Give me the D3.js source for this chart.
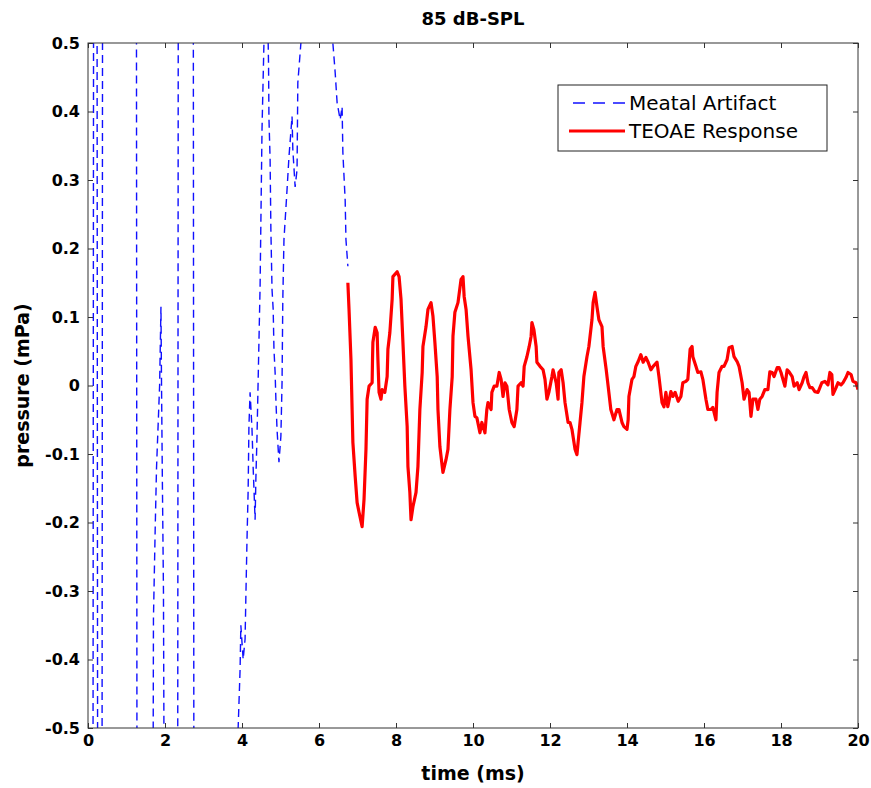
<!DOCTYPE html>
<html>
<head>
<meta charset="utf-8">
<script src="https://cdn.jsdelivr.net/npm/d3@7/dist/d3.min.js"></script>
<style>
  body { margin: 0; background: #fff; }
  text { font-family: "DejaVu Sans", Arial, sans-serif; }
</style>
</head>
<body>
<script>
// values (time in ms, pressure in mPa)
var artifactTime = [0.00, 0.13, 0.145, 0.19, 0.235, 0.25, 0.31, 0.365, 0.378, 0.80,
  1.258, 1.272, 1.50, 1.69, 1.70, 1.745, 1.78, 1.82, 1.86, 1.895, 1.91, 1.93, 1.96, 1.978,
  2.15, 2.33, 2.345, 2.55, 2.735, 2.75, 3.30, 3.89,
  3.90, 3.95, 3.97, 4.03, 4.08, 4.10, 4.13, 4.16, 4.18, 4.21, 4.26, 4.29, 4.34, 4.36, 4.39,
  4.42, 4.47, 4.52, 4.57, 4.62, 4.68, 4.69, 4.70, 4.73, 4.75, 4.78, 4.81, 4.83, 4.86, 4.88,
  4.91, 4.96, 5.01, 5.04, 5.06, 5.09, 5.17, 5.22, 5.30, 5.32, 5.38, 5.43, 5.45, 5.53, 5.95,
  6.36, 6.42, 6.47, 6.55, 6.60, 6.62, 6.68, 6.70, 6.75]
var artifactPressure = [-1.5, -0.6, 0.6, 1.5, 0.6, -0.6, -1.5, -0.6, 0.6, 1.6,
  0.6, -0.6, -1.6, -0.6, -0.34, -0.21, -0.12, -0.06, 0.0, 0.115, 0.0, -0.13, -0.3, -0.6,
  -1.6, -0.6, 0.6, 1.6, 0.6, -0.6, -1.6, -0.6,
  -0.50, -0.415, -0.35, -0.40, -0.37, -0.31, -0.225, -0.152, -0.06, -0.01, -0.064, -0.12, -0.196, -0.137, -0.074,
  0.009, 0.145, 0.374, 0.50, 0.56, 0.50, 0.466, 0.39, 0.33, 0.228, 0.14, 0.111, 0.053, 0.019, -0.02,
  -0.064, -0.112, -0.074, 0.004, 0.126, 0.213, 0.286, 0.334, 0.393, 0.345, 0.29, 0.315, 0.442, 0.50, 0.75,
  0.50, 0.457, 0.413, 0.388, 0.407, 0.34, 0.27, 0.213, 0.174]

var responseTime = [6.75, 6.78, 6.83, 6.86, 6.88, 6.94, 6.99, 7.04, 7.12, 7.17, 7.22, 7.25, 7.30, 7.38, 7.39,
  7.40, 7.46, 7.51, 7.53, 7.56, 7.61, 7.64, 7.71, 7.77, 7.79, 7.84, 7.90, 7.92, 8.03, 8.08, 8.13,
  8.18, 8.23, 8.29, 8.31, 8.36, 8.39, 8.44, 8.52, 8.57, 8.62, 8.68, 8.70, 8.78, 8.83, 8.91, 8.96,
  9.01, 9.07, 9.09, 9.14, 9.20, 9.22, 9.30, 9.35, 9.40, 9.46, 9.48, 9.53, 9.61, 9.69, 9.74, 9.77,
  9.82, 9.87, 9.95, 10.00, 10.05, 10.10, 10.18, 10.23, 10.31, 10.36, 10.39, 10.47, 10.49, 10.55,
  10.62, 10.68, 10.73, 10.78, 10.83, 10.88, 10.94, 11.01, 11.07, 11.14, 11.17, 11.25, 11.30, 11.33,
  11.40, 11.46, 11.51, 11.53, 11.58, 11.64, 11.66, 11.74, 11.82, 11.87, 11.92, 11.97, 12.05, 12.08,
  12.16, 12.21, 12.23, 12.29, 12.34, 12.39, 12.47, 12.52, 12.57, 12.65, 12.70, 12.73, 12.78, 12.83,
  12.88, 12.96, 13.01, 13.09, 13.12, 13.17, 13.22, 13.27, 13.35, 13.38, 13.46, 13.51, 13.58, 13.66,
  13.74, 13.79, 13.87, 13.92, 14.00, 14.03, 14.05, 14.13, 14.18, 14.23, 14.29, 14.36, 14.42, 14.49,
  14.55, 14.62, 14.68, 14.78, 14.83, 14.91, 14.96, 15.01, 15.06, 15.14, 15.19, 15.25, 15.33, 15.40,
  15.45, 15.53, 15.58, 15.64, 15.69, 15.71, 15.79, 15.84, 15.92, 15.97, 16.05, 16.10, 16.18, 16.23,
  16.31, 16.34, 16.39, 16.47, 16.52, 16.60, 16.65, 16.73, 16.78, 16.86, 16.91, 16.99, 17.04, 17.12,
  17.17, 17.22, 17.27, 17.35, 17.40, 17.45, 17.51, 17.58, 17.66, 17.71, 17.77, 17.82, 17.90, 17.95,
  18.00, 18.05, 18.10, 18.16, 18.21, 18.29, 18.34, 18.42, 18.47, 18.55, 18.60, 18.65, 18.70, 18.75,
  18.81, 18.88, 18.96, 19.01, 19.06, 19.14, 19.22, 19.27, 19.32, 19.35, 19.43, 19.48, 19.56, 19.61,
  19.69, 19.74, 19.82, 19.87, 19.95, 20.00]
var responsePressure = [0.150, 0.111, 0.038, -0.035, -0.083, -0.133, -0.171, -0.185, -0.206, -0.166, -0.093, -0.020, -0.001, 0.004, 0.038,
  0.063, 0.085, 0.077, 0.038, -0.010, -0.020, -0.006, -0.010, 0.013, 0.053, 0.077, 0.126, 0.159, 0.166, 0.159, 0.126,
  0.063, -0.001, -0.060, -0.118, -0.156, -0.196, -0.177, -0.156, -0.118, -0.035, 0.019, 0.057, 0.086, 0.111, 0.121, 0.101,
  0.063, 0.013, -0.035, -0.089, -0.118, -0.127, -0.108, -0.093, -0.035, 0.013, 0.072, 0.107, 0.121, 0.155, 0.159, 0.130,
  0.111, 0.072, 0.023, -0.025, -0.045, -0.047, -0.069, -0.054, -0.069, -0.035, -0.025, -0.035, -0.010, -0.001,
  -0.001, 0.019, 0.009, -0.016, 0.004, -0.001, -0.035, -0.054, -0.060, -0.035, -0.001, 0.004, -0.001, 0.028,
  0.042, 0.057, 0.072, 0.092, 0.082, 0.057, 0.034, 0.028, 0.023, 0.009, -0.020, -0.010, 0.013, 0.023,
  0.004, -0.020, 0.019, 0.023, 0.004, -0.025, -0.054, -0.054, -0.064, -0.093, -0.101, -0.083, -0.054, -0.025,
  0.013, 0.042, 0.057, 0.096, 0.121, 0.136, 0.115, 0.096, 0.086, 0.057, 0.023, -0.001, -0.035, -0.050,
  -0.035, -0.035, -0.054, -0.060, -0.064, -0.050, -0.016, 0.009, 0.013, 0.028, 0.035, 0.045, 0.034, 0.041,
  0.034, 0.023, 0.028, 0.034, 0.013, -0.025, -0.031, -0.010, -0.031, -0.009, -0.016, -0.010, -0.023, -0.016,
  0.004, 0.006, 0.009, 0.053, 0.057, 0.042, 0.028, 0.019, 0.020, 0.009, -0.020, -0.035, -0.035, -0.032,
  -0.050, -0.010, 0.019, 0.028, 0.028, 0.038, 0.055, 0.057, 0.042, 0.035, 0.028, 0.004, -0.020, -0.006,
  -0.010, -0.045, -0.020, -0.020, -0.035, -0.020, -0.016, -0.006, -0.006, 0.020, 0.019, 0.013, 0.026, 0.026,
  0.019, 0.009, -0.001, 0.023, 0.020, 0.013, -0.001, 0.004, -0.006, 0.004, 0.013, 0.019, 0.004, -0.003,
  -0.003, -0.009, -0.010, -0.003, 0.004, 0.006, 0.001, 0.019, 0.016, -0.013, -0.003, 0.004, 0.001, 0.004,
  0.012, 0.019, 0.016, 0.006, 0.004, -0.006]

var xTicks = [0, 2, 4, 6, 8, 10, 12, 14, 16, 18, 20]
var yTicks = [-0.5, -0.4, -0.3, -0.2, -0.1, 0, 0.1, 0.2, 0.3, 0.4, 0.5]
var seriesNames = ["Meatal Artifact", "TEOAE Response"]

var margin = {top: 43, right: 13, bottom: 60, left: 88},
    width = 871 - margin.left - margin.right,
    height = 788 - margin.top - margin.bottom;

var x = d3.scaleLinear().domain([0, 20]).range([0, width]);
var y = d3.scaleLinear().domain([-0.5, 0.5]).range([height, 0]);

var fmt = function(d) { return String(+d.toFixed(1)); };

var svg = d3.select("body").append("svg")
    .attr("width", 871)
    .attr("height", 788)
  .append("g")
    .attr("transform", "translate(" + margin.left + "," + margin.top + ")");

svg.append("clipPath").attr("id", "plotclip")
  .append("rect").attr("width", width).attr("height", height);

var artifact = artifactTime.map(function(t, i) { return {t: t, p: artifactPressure[i]}; });
var response = responseTime.map(function(t, i) { return {t: t, p: responsePressure[i]}; });

var line = d3.line()
    .x(function(d) { return x(d.t); })
    .y(function(d) { return y(d.p); });

svg.append("path")
    .datum(artifact)
    .attr("clip-path", "url(#plotclip)")
    .attr("fill", "none")
    .attr("stroke", "#1010ff")
    .attr("stroke-width", 1.4)
    .attr("stroke-dasharray", "8,5")
    .attr("d", line);

svg.append("path")
    .datum(response)
    .attr("clip-path", "url(#plotclip)")
    .attr("fill", "none")
    .attr("stroke", "#ff0000")
    .attr("stroke-width", 3.2)
    .attr("stroke-linejoin", "round")
    .attr("d", line);

// axes, ticks pointing inward on all four sides
function styleAxis(g) {
  g.select(".domain").remove();
  g.selectAll(".tick line").attr("stroke", "#333");
  g.selectAll(".tick text")
    .attr("fill", "#000")
    .style("font-size", "16px")
    .style("font-weight", "bold");
}

svg.append("g")
    .attr("transform", "translate(0," + height + ")")
    .call(d3.axisBottom(x).tickValues(xTicks).tickFormat(fmt).tickSizeInner(-5).tickSizeOuter(0).tickPadding(7))
    .call(styleAxis);

svg.append("g")
    .call(d3.axisTop(x).tickValues(xTicks).tickFormat("").tickSizeInner(-5).tickSizeOuter(0))
    .call(styleAxis);

svg.append("g")
    .call(d3.axisLeft(y).tickValues(yTicks).tickFormat(fmt).tickSizeInner(-5).tickSizeOuter(0).tickPadding(8))
    .call(styleAxis);

svg.append("g")
    .attr("transform", "translate(" + width + ",0)")
    .call(d3.axisRight(y).tickValues(yTicks).tickFormat("").tickSizeInner(-5).tickSizeOuter(0))
    .call(styleAxis);

svg.append("rect")
    .attr("width", width)
    .attr("height", height)
    .attr("fill", "none")
    .attr("stroke", "#333")
    .attr("stroke-width", 1);

// labels
svg.append("text")
    .attr("x", width / 2)
    .attr("y", -25)
    .attr("text-anchor", "middle")
    .attr("dominant-baseline", "central")
    .style("font-size", "18px")
    .style("font-weight", "bold")
    .text("85 dB-SPL");

svg.append("text")
    .attr("x", width / 2)
    .attr("y", height + 45)
    .attr("text-anchor", "middle")
    .attr("dominant-baseline", "central")
    .style("font-size", "19px")
    .style("font-weight", "bold")
    .text("time (ms)");

svg.append("text")
    .attr("transform", "translate(" + (-66) + "," + (height / 2) + ") rotate(-90)")
    .attr("text-anchor", "middle")
    .attr("dominant-baseline", "central")
    .style("font-size", "19px")
    .style("font-weight", "bold")
    .text("pressure (mPa)");

// legend
var legend = svg.append("g")
    .attr("transform", "translate(" + (width - 300) + "," + 42 + ")");

legend.append("rect")
    .attr("width", 269)
    .attr("height", 66)
    .attr("fill", "#fff")
    .attr("stroke", "#222");

legend.append("line")
    .attr("x1", 15).attr("x2", 67)
    .attr("y1", 18).attr("y2", 18)
    .attr("stroke", "#1010ff")
    .attr("stroke-width", 1.4)
    .attr("stroke-dasharray", "12,8");

legend.append("line")
    .attr("x1", 11).attr("x2", 67)
    .attr("y1", 46).attr("y2", 46)
    .attr("stroke", "#ff0000")
    .attr("stroke-width", 3.2);

legend.selectAll(".lbl")
    .data(seriesNames)
  .enter().append("text")
    .attr("class", "lbl")
    .attr("x", 71)
    .attr("y", function(d, i) { return 18 + i * 28; })
    .attr("dominant-baseline", "central")
    .style("font-size", "20px")
    .text(function(d) { return d; });
</script>
</body>
</html>
